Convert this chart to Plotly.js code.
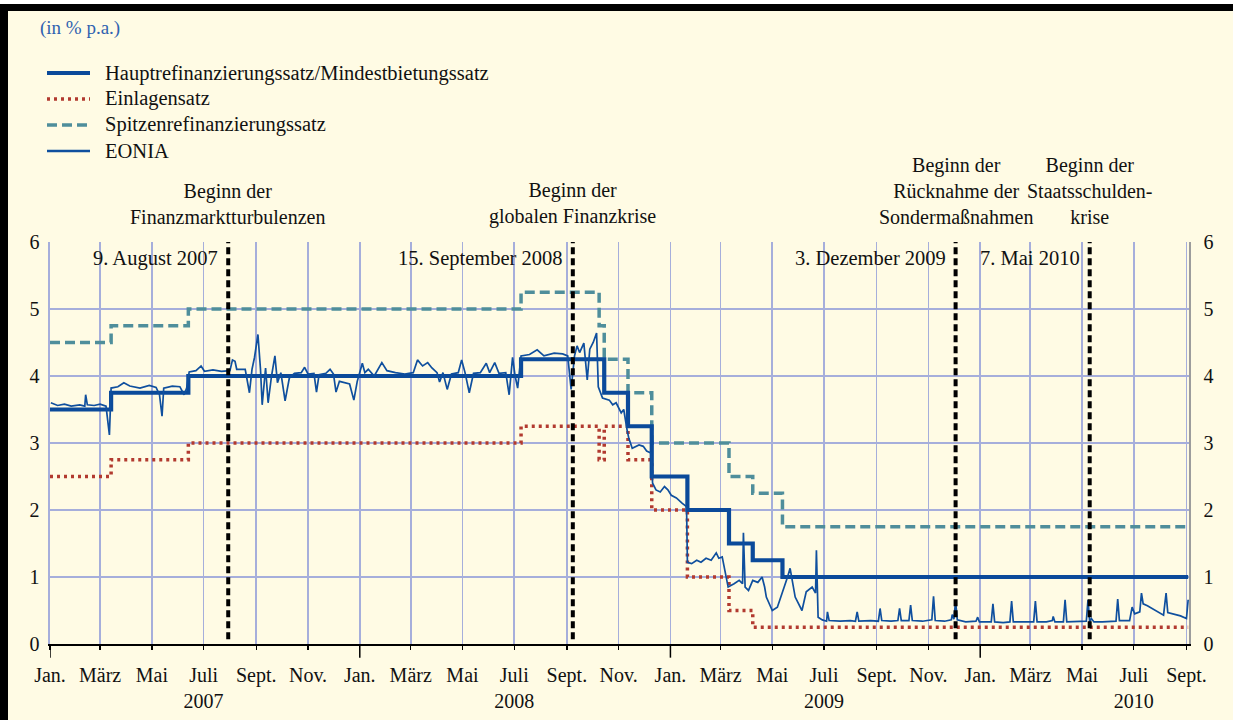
<!DOCTYPE html>
<html>
<head>
<meta charset="utf-8">
<script src="https://cdn.plot.ly/plotly-3.0.1.min.js"></script>
<style>
  html, body { margin: 0; padding: 0; background: #ffffff; }
  #wrap { position: relative; width: 1233px; height: 720px; overflow: hidden; }
  #chart { position: absolute; left: 0; top: 0; width: 1233px; height: 720px; }
  #topWhite { position: absolute; left: 0; top: 0; width: 1233px; height: 4px; background: #fff; }
  #topBar { position: absolute; left: 0; top: 4px; width: 1233px; height: 7px; background: #000; }
  #leftBar { position: absolute; left: 0; top: 4px; width: 8px; height: 716px; background: #000; }
</style>
</head>
<body>
<div id="wrap">
  <div id="chart"></div>
  <div id="topWhite"></div>
  <div id="topBar"></div>
  <div id="leftBar"></div>
</div>
<script>
// ---------- DATA ----------
const monthLabels = ['Jan.', 'März', 'Mai', 'Juli', 'Sept.', 'Nov.'];
const yearLabels = ['2007', '2008', '2009', '2010'];
const yearStarts = ['2007-01-01', '2008-01-01', '2009-01-01', '2010-01-01'];
const yTicks = [0, 1, 2, 3, 4, 5, 6];

const seriesNames = [
  'Hauptrefinanzierungssatz/Mindestbietungssatz',
  'Einlagensatz',
  'Spitzenrefinanzierungssatz',
  'EONIA'
];

const mroDates = ['2007-01-01','2007-03-14','2007-06-13','2008-07-09','2008-10-15','2008-11-12','2008-12-10','2009-01-21','2009-03-11','2009-04-08','2009-05-13','2010-09-03'];
const mroVals  = [3.50, 3.75, 4.00, 4.25, 3.75, 3.25, 2.50, 2.00, 1.50, 1.25, 1.00, 1.00];

const depoDates = ['2007-01-01','2007-03-14','2007-06-13','2008-07-09','2008-10-09','2008-10-15','2008-11-12','2008-12-10','2009-01-21','2009-03-11','2009-04-08','2010-09-03'];
const depoVals  = [2.50, 2.75, 3.00, 3.25, 2.75, 3.25, 2.75, 2.00, 1.00, 0.50, 0.25, 0.25];

const mlfDates = ['2007-01-01','2007-03-14','2007-06-13','2008-07-09','2008-10-09','2008-10-15','2008-11-12','2008-12-10','2009-03-11','2009-04-08','2009-05-13','2010-09-03'];
const mlfVals  = [4.50, 4.75, 5.00, 5.25, 4.75, 4.25, 3.75, 3.00, 2.50, 2.25, 1.75, 1.75];

const eoniaDates = [
  '2007-01-02','2007-01-10','2007-01-18','2007-01-26','2007-02-05','2007-02-11','2007-02-12','2007-02-14','2007-02-22','2007-03-01',
  '2007-03-08','2007-03-12','2007-03-14','2007-03-22','2007-03-29','2007-04-05','2007-04-17','2007-04-28','2007-05-06','2007-05-10',
  '2007-05-13','2007-05-15','2007-05-25','2007-06-03','2007-06-08','2007-06-11','2007-06-14','2007-06-22','2007-06-28','2007-07-02',
  '2007-07-12','2007-07-22','2007-08-01','2007-08-04','2007-08-07','2007-08-09','2007-08-19','2007-08-24','2007-08-27','2007-08-30',
  '2007-09-03','2007-09-06','2007-09-08','2007-09-12','2007-09-15','2007-09-19','2007-09-23','2007-09-26','2007-09-30','2007-10-05',
  '2007-10-10','2007-10-16','2007-10-24','2007-10-28','2007-11-01','2007-11-08','2007-11-11','2007-11-14','2007-11-22','2007-11-27',
  '2007-12-01','2007-12-04','2007-12-08','2007-12-14','2007-12-20','2007-12-25','2007-12-29',
  '2008-01-04','2008-01-07','2008-01-11','2008-01-18','2008-01-27','2008-02-02','2008-02-12','2008-02-23','2008-03-04','2008-03-09',
  '2008-03-15','2008-03-21','2008-03-26','2008-04-01','2008-04-04','2008-04-08','2008-04-13','2008-04-18','2008-04-26','2008-04-30',
  '2008-05-04','2008-05-09','2008-05-14','2008-05-22','2008-05-29','2008-06-02','2008-06-08','2008-06-13','2008-06-21','2008-06-25',
  '2008-06-29','2008-07-02','2008-07-05','2008-07-09','2008-07-19','2008-07-28','2008-08-05','2008-08-12','2008-08-17','2008-08-27',
  '2008-09-02','2008-09-06','2008-09-10','2008-09-13','2008-09-16','2008-09-21','2008-09-25','2008-09-28','2008-10-02','2008-10-06',
  '2008-10-08','2008-10-13','2008-10-21','2008-10-25','2008-10-29','2008-11-04','2008-11-07','2008-11-11','2008-11-13','2008-11-17',
  '2008-11-25','2008-11-30','2008-12-04','2008-12-09','2008-12-11','2008-12-15','2008-12-20','2008-12-25','2008-12-29',
  '2009-01-02','2009-01-08','2009-01-15','2009-01-20','2009-01-21','2009-01-26','2009-02-01','2009-02-06','2009-02-12','2009-02-18',
  '2009-02-24','2009-02-27','2009-03-03','2009-03-07','2009-03-10','2009-03-17','2009-03-23','2009-03-27','2009-03-28','2009-03-30',
  '2009-04-03','2009-04-08','2009-04-14','2009-04-19','2009-04-22','2009-04-24','2009-05-01','2009-05-07','2009-05-14','2009-05-19',
  '2009-05-22','2009-05-26','2009-05-28','2009-06-05','2009-06-10','2009-06-17','2009-06-21','2009-06-22','2009-06-24','2009-06-29',
  '2009-07-04','2009-07-05','2009-07-07','2009-07-20','2009-08-01','2009-08-07','2009-08-09','2009-08-11','2009-08-25','2009-09-03',
  '2009-09-05','2009-09-07','2009-09-18','2009-09-26','2009-09-28','2009-09-30','2009-10-09','2009-10-11','2009-10-13','2009-10-25',
  '2009-11-05','2009-11-07','2009-11-09','2009-11-20','2009-11-28','2009-11-29','2009-12-01','2009-12-03','2009-12-05','2009-12-15',
  '2009-12-27','2009-12-29','2009-12-31',
  '2010-01-08','2010-01-14','2010-01-16','2010-01-18','2010-01-28','2010-02-05','2010-02-07','2010-02-09','2010-02-20','2010-03-05',
  '2010-03-07','2010-03-09','2010-03-20','2010-03-27','2010-03-28','2010-03-30','2010-04-09','2010-04-11','2010-04-13','2010-04-25',
  '2010-05-06','2010-05-08','2010-05-10','2010-05-12','2010-05-15','2010-05-25','2010-06-04','2010-06-10','2010-06-12','2010-06-14',
  '2010-06-26','2010-06-29','2010-07-02','2010-07-08','2010-07-10','2010-07-12','2010-07-17','2010-07-26','2010-08-05','2010-08-08',
  '2010-08-10','2010-08-25','2010-09-01','2010-09-03'
];
const eoniaVals = [
  3.60,3.56,3.58,3.55,3.57,3.55,3.72,3.57,3.56,3.58,
  3.55,3.12,3.82,3.84,3.90,3.85,3.82,3.86,3.83,3.72,
  3.40,3.82,3.85,3.84,3.72,3.82,4.06,4.08,4.15,4.07,
  4.09,4.07,4.08,4.24,4.22,4.10,4.10,3.75,4.10,4.28,
  4.62,4.10,3.57,4.12,3.60,4.00,4.30,3.90,4.05,3.63,
  3.97,4.04,4.05,4.13,4.03,4.04,3.76,4.02,4.04,4.10,
  4.03,3.76,3.92,3.90,3.88,3.64,3.92,
  4.19,4.05,4.10,4.00,4.20,4.08,4.05,4.03,4.05,4.24,
  4.15,4.20,4.12,4.05,3.91,4.05,3.80,4.03,4.05,4.24,
  4.05,3.75,4.04,4.05,4.19,4.05,4.20,4.04,4.05,3.72,
  4.28,4.00,3.82,4.30,4.32,4.39,4.30,4.33,4.34,4.33,
  4.30,3.80,4.30,4.45,4.35,4.49,3.94,4.40,4.50,4.64,
  3.84,3.67,3.64,3.57,3.60,3.45,3.50,3.19,3.07,2.92,
  2.97,2.95,2.88,2.85,2.40,2.30,2.27,2.35,2.30,
  2.22,2.18,2.10,2.05,1.22,1.20,1.25,1.22,1.28,1.25,
  1.36,1.28,1.30,1.06,0.85,0.90,0.95,0.90,1.66,0.85,
  0.80,0.95,0.92,1.00,0.85,0.70,0.50,0.55,0.80,1.00,
  1.13,0.85,0.70,0.50,0.78,0.85,0.76,1.40,0.40,0.36,
  0.34,0.48,0.35,0.34,0.35,0.34,0.48,0.34,0.35,0.34,
  0.53,0.35,0.34,0.35,0.53,0.35,0.35,0.58,0.35,0.34,
  0.36,0.71,0.35,0.34,0.36,0.44,0.37,0.64,0.36,0.33,
  0.34,0.40,0.33,
  0.33,0.33,0.60,0.33,0.32,0.33,0.64,0.33,0.33,0.33,
  0.64,0.33,0.33,0.35,0.41,0.33,0.33,0.66,0.33,0.33,
  0.34,0.66,0.33,0.38,0.33,0.33,0.34,0.34,0.67,0.35,
  0.35,0.55,0.45,0.48,0.76,0.60,0.57,0.50,0.43,0.76,
  0.47,0.42,0.38,0.66
];

const eventDates = ['2007-07-30', '2008-09-08', '2009-12-03', '2010-05-10'];
const eventDateLabels = ['9. August 2007', '15. September 2008', '3. Dezember 2009', '7. Mai 2010'];
const eventTitles = [
  'Beginn der<br>Finanzmarktturbulenzen',
  'Beginn der<br>globalen Finanzkrise',
  'Beginn der<br>Rücknahme der<br>Sondermaßnahmen',
  'Beginn der<br>Staatsschulden-<br>krise'
];
const unitLabel = '(in % p.a.)';
const xStart = '2007-01-01';
const xEnd = '2010-09-04';

// ---------- BUILD ----------
const FONT = '"Liberation Serif", "Times New Roman", Times, serif';
const C_MRO = '#0b4a9a';
const C_DEPO = '#b23a2f';
const C_MLF = '#4f8e9b';
const C_EON = '#0f4f9e';
const C_GRID = '#a6aedb';

const styles = [
  { color: C_MRO, width: 4.2, dash: 'solid' },
  { color: C_DEPO, width: 3.5, dash: '3px,4px' },
  { color: C_MLF, width: 3.5, dash: '10px,5px' },
  { color: C_EON, width: 1.7, dash: 'solid' }
];

const tickVals = [], tickText = [];
yearLabels.forEach(function (yr) {
  monthLabels.forEach(function (lab, mi) {
    const mm = String(1 + 2 * mi).padStart(2, '0');
    const d = yr + '-' + mm + '-01';
    if (d <= xEnd) {
      tickVals.push(d);
      tickText.push(mi === 3 ? lab + '<br>' + yr : lab);
    }
  });
});

const traces = [
  { x: depoDates, y: depoVals, name: seriesNames[1], mode: 'lines', line: Object.assign({ shape: 'hv' }, styles[1]), showlegend: false },
  { x: mlfDates, y: mlfVals, name: seriesNames[2], mode: 'lines', line: Object.assign({ shape: 'hv' }, styles[2]), showlegend: false },
  { x: mroDates, y: mroVals, name: seriesNames[0], mode: 'lines', line: Object.assign({ shape: 'hv' }, styles[0]), showlegend: false },
  { x: eoniaDates, y: eoniaVals, name: seriesNames[3], mode: 'lines', line: styles[3], showlegend: false },
  { x: [xStart], y: [0], yaxis: 'y2', mode: 'markers', marker: { opacity: 0 }, showlegend: false, hoverinfo: 'skip' }
];

// plot area in pixels: left 50, width 1139; top 242, height 402
const PX = function (px) { return (px - 50) / 1139; };
const PY = function (py) { return (644 - py) / 402; };

const shapes = [];
eventDates.forEach(function (d) {
  shapes.push({ type: 'line', xref: 'x', yref: 'paper', x0: d, x1: d, y0: 0.012, y1: 1,
    line: { color: '#000', width: 4, dash: '7px,4px' }, layer: 'above' });
});
yearStarts.forEach(function (d) {
  shapes.push({ type: 'line', xref: 'x', yref: 'paper', x0: d, x1: d, y0: 0, y1: -0.034,
    line: { color: '#000', width: 1.5 }, layer: 'above' });
});

const annotations = [];
annotations.push({ text: unitLabel, xref: 'paper', yref: 'paper', x: PX(38), y: PY(28),
  xanchor: 'left', yanchor: 'middle', showarrow: false, font: { family: FONT, size: 19, color: '#2f62b0' } });

// legend (key)
const legendRows = [73, 99, 125, 151];
seriesNames.forEach(function (nm, i) {
  const st = styles[i];
  shapes.push({ type: 'line', xref: 'paper', yref: 'paper', x0: PX(47), x1: PX(90), y0: PY(legendRows[i]), y1: PY(legendRows[i]),
    line: { color: st.color, width: i === 3 ? 2.6 : st.width, dash: st.dash } });
  annotations.push({ text: nm, xref: 'paper', yref: 'paper', x: PX(103), y: PY(legendRows[i]),
    xanchor: 'left', yanchor: 'middle', showarrow: false, font: { family: FONT, size: 20.5, color: '#111' } });
});

eventDates.forEach(function (d, i) {
  annotations.push({ text: eventTitles[i], xref: 'x', yref: 'paper', x: d, y: 1.03,
    xanchor: 'center', yanchor: 'bottom', showarrow: false, align: 'center',
    font: { family: FONT, size: 20, color: '#111' } });
  annotations.push({ text: eventDateLabels[i], xref: 'x', yref: 'paper', x: d, y: 0.96, xshift: -8,
    xanchor: 'right', yanchor: 'middle', showarrow: false,
    font: { family: FONT, size: 20.5, color: '#111' } });
});

const layout = {
  width: 1233, height: 720,
  margin: { l: 50, r: 44, t: 242, b: 76 },
  paper_bgcolor: '#fffbe4', plot_bgcolor: '#fffbe4',
  font: { family: FONT, size: 20, color: '#111' },
  showlegend: false,
  xaxis: {
    type: 'date', range: [xStart, xEnd], tickmode: 'array', tickvals: tickVals, ticktext: tickText,
    showgrid: true, gridcolor: C_GRID, gridwidth: 1.6, showline: true, linecolor: '#000', linewidth: 1.5,
    ticks: 'outside', ticklen: 4, tickcolor: '#000', tickwidth: 1.3, ticklabelstandoff: 8,
    tickfont: { family: FONT, size: 20, color: '#111' }, zeroline: false, fixedrange: true
  },
  yaxis: {
    range: [0, 6], tickmode: 'array', tickvals: yTicks, showgrid: true, gridcolor: C_GRID, gridwidth: 1.6,
    showline: true, linecolor: C_GRID, linewidth: 1.6, ticks: '', zeroline: false, ticklabelstandoff: 5,
    tickfont: { family: FONT, size: 20, color: '#111' }, fixedrange: true
  },
  yaxis2: {
    range: [0, 6], overlaying: 'y', side: 'right', tickmode: 'array', tickvals: yTicks, showgrid: false,
    showline: true, linecolor: '#9c9c9c', linewidth: 1.5, ticks: '', zeroline: false, ticklabelstandoff: 9,
    tickfont: { family: FONT, size: 20, color: '#111' }, fixedrange: true
  },
  shapes: shapes,
  annotations: annotations
};

Plotly.newPlot('chart', traces, layout, { displayModeBar: false, staticPlot: true });
</script>
</body>
</html>
